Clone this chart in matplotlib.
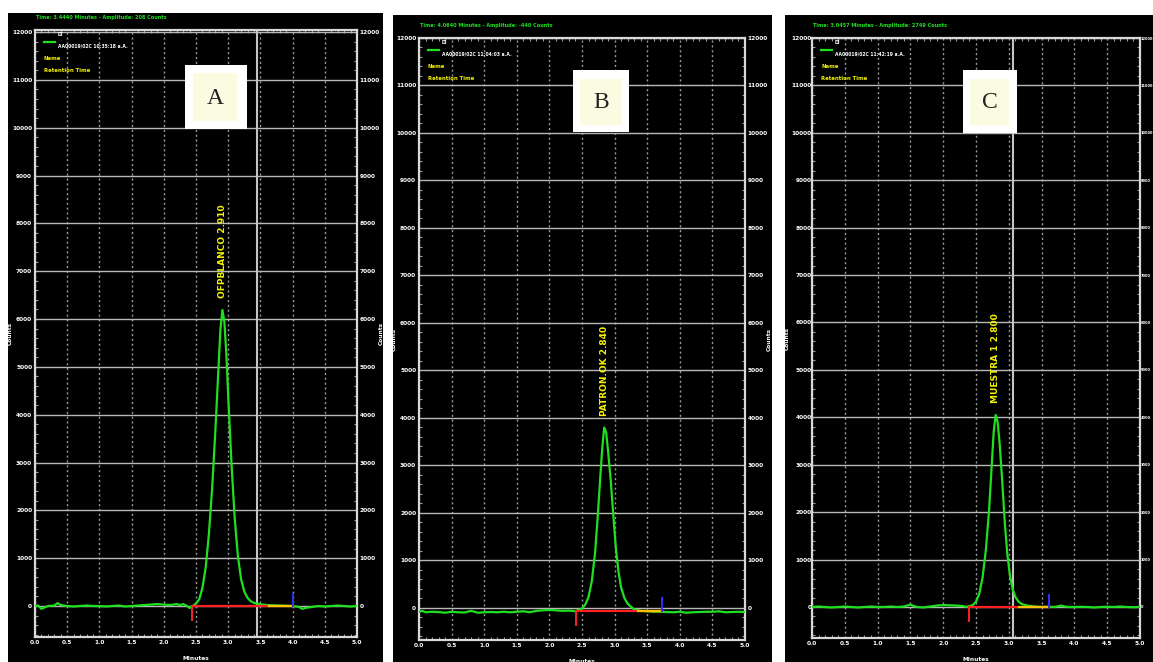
import matplotlib
matplotlib.use("Agg")
import matplotlib.pyplot as plt
from matplotlib import font_manager
from matplotlib.patches import Rectangle
from matplotlib.lines import Line2D
from matplotlib.ticker import FixedLocator, MultipleLocator

# ---------------- data ----------------
x_ticks = [0.0, 0.5, 1.0, 1.5, 2.0, 2.5, 3.0, 3.5, 4.0, 4.5, 5.0]
x_tick_labels = ["0.0", "0.5", "1.0", "1.5", "2.0", "2.5", "3.0", "3.5", "4.0", "4.5", "5.0"]
y_ticks = [0, 1000, 2000, 3000, 4000, 5000, 6000, 7000, 8000, 9000, 10000, 11000, 12000]
y_tick_labels = [str(v) for v in y_ticks]

panel_letters = ["A", "B", "C"]
sample_names = ["OFPBLANCO", "PATRON.OK", "MUESTRA 1"]
header_texts = [
    "Time: 3.4440 Minutes - Amplitude: 208 Counts",
    "Time: 4.0640 Minutes - Amplitude: -440 Counts",
    "Time: 3.0457 Minutes - Amplitude: 2749 Counts",
]
detector_label = "DI"
run_labels = [
    "AA00019/02C 10:35:18 a.A.",
    "AA00019/02C 11:04:03 a.A.",
    "AA00019/02C 11:42:19 a.A.",
]

minutes_a = [0.00, 0.05, 0.10, 0.15, 0.20, 0.30, 0.35, 0.40, 0.50, 0.60, 0.70, 0.80,
             0.90, 1.00, 1.10, 1.20, 1.30, 1.40, 1.50, 1.60, 1.70, 1.80, 1.90, 2.00,
             2.10, 2.20, 2.25, 2.30, 2.35, 2.40, 2.45, 2.50, 2.55, 2.60, 2.65, 2.70,
             2.75, 2.80, 2.85, 2.88, 2.91, 2.94, 2.97, 3.00, 3.05, 3.10, 3.15, 3.20,
             3.25, 3.30, 3.35, 3.40, 3.50, 3.60, 3.70, 3.80, 3.90, 4.00, 4.10, 4.15,
             4.20, 4.30, 4.40, 4.50, 4.60, 4.70, 4.80, 4.90, 5.00]
counts_a = [0, 10, -60, -30, 0, 10, 60, 20, 0, -10, 0, 10,
            0, 0, -10, 0, 10, -10, 0, 10, 20, 30, 40, 30,
            20, 40, 20, 40, 10, -40, 0, 50, 140, 380, 800, 1500,
            2450, 3650, 5000, 5800, 6190, 5950, 5300, 4400, 3000, 1850, 1050, 560,
            300, 170, 100, 65, 35, 20, 15, 10, 5, 0, -20, -60,
            -40, -20, 0, -10, 0, 10, 0, -10, 0]

minutes_b = [0.00, 0.05, 0.10, 0.20, 0.30, 0.40, 0.50, 0.60, 0.70, 0.80, 0.85, 0.90,
             1.00, 1.10, 1.20, 1.30, 1.40, 1.50, 1.60, 1.70, 1.80, 1.90, 2.00, 2.10,
             2.20, 2.30, 2.35, 2.40, 2.50, 2.55, 2.60, 2.65, 2.70, 2.74, 2.78, 2.81,
             2.84, 2.87, 2.90, 2.94, 2.98, 3.02, 3.06, 3.10, 3.15, 3.20, 3.25, 3.30,
             3.40, 3.50, 3.60, 3.70, 3.80, 3.90, 4.00, 4.10, 4.20, 4.30, 4.40, 4.50,
             4.60, 4.70, 4.80, 4.90, 5.00]
counts_b = [-80, -60, -90, -80, -85, -100, -80, -90, -95, -60, -80, -100,
            -90, -85, -90, -80, -90, -80, -70, -90, -60, -50, -40, -50,
            -60, -55, -60, -70, -10, 70, 230, 560, 1150, 1900, 2750, 3350,
            3800, 3700, 3300, 2700, 1950, 1250, 760, 430, 210, 90, 25, -30,
            -60, -70, -80, -80, -85, -90, -80, -100, -90, -85, -80, -80,
            -70, -90, -85, -80, -85]

minutes_c = [0.00, 0.10, 0.20, 0.30, 0.40, 0.50, 0.60, 0.70, 0.80, 0.90, 1.00, 1.10,
             1.20, 1.30, 1.40, 1.50, 1.55, 1.60, 1.70, 1.80, 1.90, 2.00, 2.10, 2.20,
             2.30, 2.35, 2.45, 2.50, 2.55, 2.60, 2.65, 2.70, 2.74, 2.77, 2.80, 2.83,
             2.86, 2.90, 2.94, 2.98, 3.02, 3.06, 3.10, 3.15, 3.20, 3.30, 3.40, 3.50,
             3.60, 3.70, 3.80, 3.85, 3.90, 4.00, 4.10, 4.20, 4.30, 4.40, 4.50, 4.60,
             4.70, 4.80, 4.90, 5.00]
counts_c = [0, 10, 0, -10, 0, 10, 0, -10, 0, 10, 0, 0,
            10, 0, 10, 50, 20, 0, -10, 10, 30, 40, 35, 30,
            20, 0, 40, 110, 280, 620, 1200, 2050, 3000, 3700, 4050, 3900,
            3450, 2650, 1750, 1080, 640, 370, 210, 110, 60, 25, 10, 0,
            5, 0, 30, 10, 0, 0, 5, 0, -10, 0, 5, 0,
            10, 0, -5, 0]

# integration baseline: start, end, level, start of the yellow part
integration_start = [2.44, 2.41, 2.39]
integration_end = [4.01, 3.73, 3.62]
integration_level = [0, -55, 0]
integration_tail = [3.63, 3.36, 3.15]
cursor_minutes = [3.45, None, 3.07]

traces = [(minutes_a, counts_a), (minutes_b, counts_b), (minutes_c, counts_c)]

# ---------------- layout (pixels) ----------------
W, H = 1153, 662
panel_boxes = [(8, 13, 383, 662), (393, 15, 772, 662), (785, 15, 1153, 662)]
frame_boxes = [(35, 30, 357, 637), (419, 38, 745, 640), (812, 38, 1140, 638)]
y_limits = [(-648, 12042), (-674, 12000), (-654, 12000)]
right_label_size = [4.2, 4.2, 2.6]
right_label_pad = [2, 2, 0.4]
letter_outer = [(185, 65, 247, 129), (573, 70, 629, 132), (963, 70, 1017, 133)]
letter_inner = [(193, 73, 237, 121), (580, 79, 622, 125), (970, 79, 1009, 125)]

GREEN = "#1fe01f"
YELLOW = "#f2f200"
GRID = "#b8b8b8"
FRAME = "#d8d8d8"


def pick_family(candidates):
    for name in candidates:
        try:
            font_manager.findfont(font_manager.FontProperties(family=name),
                                  fallback_to_default=False)
            return name
        except Exception:
            continue
    return "DejaVu Sans"


NARROW = pick_family(["Liberation Sans Narrow", "DejaVu Sans"])

fig = plt.figure(figsize=(W / 100, H / 100), dpi=100)
fig.patch.set_facecolor("white")


def frac_rect(box):
    x0, y0, x1, y1 = box
    return [x0 / W, 1 - y1 / H, (x1 - x0) / W, (y1 - y0) / H]


def fx(x):
    return x / W


def fy(y):
    return 1 - y / H


small = dict(color="white", fontsize=4.2, fontweight="bold", family="DejaVu Sans")
narrow = dict(fontweight="bold", family=NARROW, fontstretch="condensed")

for i in range(3):
    bg = fig.add_axes(frac_rect(panel_boxes[i]), zorder=0)
    bg.set_facecolor("black")
    bg.set_xticks([])
    bg.set_yticks([])
    for s in bg.spines.values():
        s.set_visible(False)

    ax = fig.add_axes(frac_rect(frame_boxes[i]), zorder=1)
    ax.set_facecolor("black")
    ax.set_xlim(0, 5)
    ax.set_ylim(*y_limits[i])

    ax.xaxis.set_major_locator(FixedLocator(x_ticks))
    ax.set_xticklabels(x_tick_labels)
    ax.yaxis.set_major_locator(FixedLocator(y_ticks))
    ax.set_yticklabels(y_tick_labels)
    ax.xaxis.set_minor_locator(MultipleLocator(0.1))
    ax.yaxis.set_minor_locator(MultipleLocator(200))

    ax.tick_params(which="major", length=0, pad=2, labelsize=4.2,
                   labelcolor="white", left=True, right=True,
                   labelleft=True, labelright=True)
    ax.tick_params(which="minor", direction="in", length=2.5, width=0.8,
                   color="#9a9a9a", top=True, right=True, left=True, bottom=True)
    for lab in ax.get_xticklabels() + ax.get_yticklabels():
        lab.set_fontweight("bold")
    for tick in ax.yaxis.get_major_ticks():
        tick.label2.set_fontsize(right_label_size[i])
        tick.label2.set_fontweight("bold")
        tick.set_pad(2)
    if right_label_pad[i] != 2:
        for tick in ax.yaxis.get_major_ticks():
            tick.set_pad(right_label_pad[i])

    ax.grid(axis="y", which="major", color=GRID, lw=1.0, ls="-")
    ax.grid(axis="x", which="major", color="#9a9a9a", lw=1.0, ls=(0, (1.5, 2.0)))
    ax.set_axisbelow(True)
    for s in ax.spines.values():
        s.set_color(FRAME)
        s.set_linewidth(1.6)

    if cursor_minutes[i] is not None:
        ax.axvline(cursor_minutes[i], color="#c4c4c4", lw=1.5, zorder=1.5)

    t, c = traces[i]
    ax.plot(t, c, color=GREEN, lw=1.6, zorder=3)

    s0, s1 = integration_start[i], integration_end[i]
    lvl = integration_level[i]
    ax.plot([s0, s1], [lvl, lvl], color="#ff2020", lw=1.6, zorder=4)
    ax.plot([integration_tail[i], s1], [lvl, lvl], color="#f5c400", lw=1.6, zorder=4)
    ax.plot([s0, s0], [lvl, lvl - 300], color="#ff2020", lw=1.4, zorder=4)
    ax.plot([s1, s1], [lvl, lvl + 260], color="#3030ff", lw=1.4, zorder=4)

    k = max(range(len(c)), key=lambda j: c[j])
    ax.text(t[k], c[k] + 250, f"{sample_names[i]} {t[k]:.3f}", rotation=90,
            ha="center", va="bottom", color=YELLOW, fontsize=6.5,
            fontweight="bold", zorder=5)

    fx0, fy0, fx1, fy1 = frame_boxes[i]
    fig.text(fx(fx0 + 1), fy(fy0 - 12), header_texts[i], color=GREEN,
             fontsize=4.0, va="center", ha="left", zorder=6, **narrow)
    fig.add_artist(Line2D([fx(fx0 + 9), fx(fx0 + 20)], [fy(fy0 + 12)] * 2,
                          color=GREEN, lw=1.6, zorder=6))
    fig.text(fx(fx0 + 23), fy(fy0 + 4), detector_label, va="center", ha="left",
             color="white", fontsize=3.8, zorder=6, **narrow)
    fig.text(fx(fx0 + 23), fy(fy0 + 16), run_labels[i], va="center", ha="left",
             color="white", fontsize=3.6, zorder=6, **narrow)
    fig.text(fx(fx0 + 9), fy(fy0 + 28), "Name", va="center", ha="left",
             color=YELLOW, fontsize=4.2, zorder=6, **narrow)
    fig.text(fx(fx0 + 9), fy(fy0 + 41), "Retention Time", va="center", ha="left",
             color=YELLOW, fontsize=4.2, zorder=6, **narrow)

    cy = (fy0 + fy1) / 2
    fig.text(fx(fx0 - 25), fy(cy), "Counts", rotation=90, va="center",
             ha="center", zorder=6, **small)
    if fx1 + 28 < W:
        fig.text(fx(fx1 + 24), fy(cy), "Counts", rotation=90, va="center",
                 ha="center", zorder=6, **small)
    fig.text(fx((fx0 + fx1) / 2), fy(fy1 + 19), "Minutes", va="top",
             ha="center", zorder=6, **small)

    ox0, oy0, ox1, oy1 = letter_outer[i]
    fig.add_artist(Rectangle((fx(ox0), fy(oy1)), fx(ox1 - ox0), (oy1 - oy0) / H,
                             transform=fig.transFigure, facecolor="white",
                             edgecolor="none", zorder=7))
    ix0, iy0, ix1, iy1 = letter_inner[i]
    fig.add_artist(Rectangle((fx(ix0), fy(iy1)), fx(ix1 - ix0), (iy1 - iy0) / H,
                             transform=fig.transFigure, facecolor="#fbfbe2",
                             edgecolor="none", zorder=8))
    fig.text(fx((ix0 + ix1) / 2), fy((iy0 + iy1) / 2 + 1), panel_letters[i],
             family="Liberation Serif", fontsize=17, color="#222222",
             ha="center", va="center", zorder=9)

fig.savefig("out.png", dpi=100, facecolor=fig.get_facecolor())
